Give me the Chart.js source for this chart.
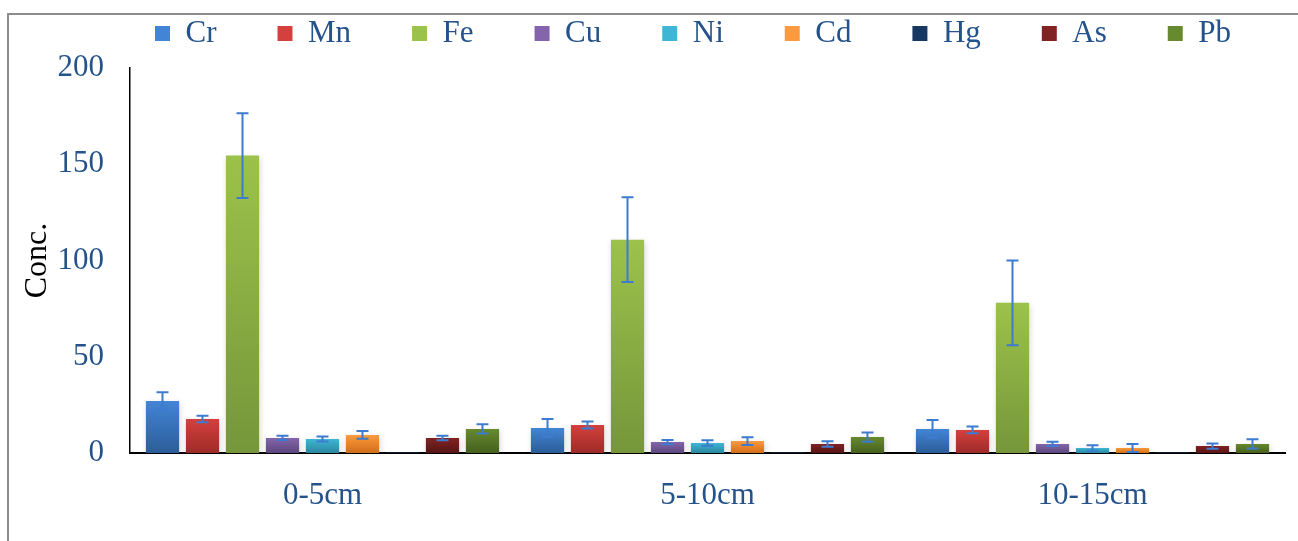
<!DOCTYPE html>
<html>
<head>
<meta charset="utf-8">
<script src="https://cdn.jsdelivr.net/npm/chart.js@4"></script>
<style>
  html, body { margin: 0; padding: 0; background: #fff; overflow: hidden; }
  #frame {
    position: absolute; left: 7px; top: 13px; width: 1291px; height: 528px;
    border-top: 2px solid #8c8c8c; border-left: 2px solid #8c8c8c;
  }
  #wrap { width: 1289px; height: 526px; }
</style>
</head>
<body>
<div id="frame"><div id="wrap"><canvas id="metalChart"></canvas></div></div>
<script>
// Data
const depths = ["0-5cm", "5-10cm", "10-15cm"];
const metals = ["Cr", "Mn", "Fe", "Cu", "Ni", "Cd", "Hg", "As", "Pb"];

const crValues = [27, 13, 12.5];
const mnValues = [17.7, 14.5, 12];
const feValues = [154.5, 110.8, 78];
const cuValues = [7.8, 5.7, 4.7];
const niValues = [7.3, 5.2, 2.6];
const cdValues = [9.4, 6.2, 2.6];
const hgValues = [0.3, 0.3, 0.3];
const asValues = [7.8, 4.7, 3.6];
const pbValues = [12.5, 8.3, 4.7];

const crErrors = [4.5, 4.6, 4.6];
const mnErrors = [1.7, 1.8, 1.8];
const feErrors = [22, 22, 22];
const cuErrors = [1.1, 1.1, 1.1];
const niErrors = [1.3, 1.4, 1.4];
const cdErrors = [2, 2, 2.1];
const hgErrors = [0, 0, 0];
const asErrors = [1.2, 1.4, 1.4];
const pbErrors = [2.4, 2.4, 2.4];

const yTicks = [0, 50, 100, 150, 200];

// Setup

const allValues = [crValues, mnValues, feValues, cuValues, niValues, cdValues, hgValues, asValues, pbValues];
const allErrors = [crErrors, mnErrors, feErrors, cuErrors, niErrors, cdErrors, hgErrors, asErrors, pbErrors];

// light (top) and dark (bottom) shade of each bar
const lightColors = ["#4285d6", "#d4403d", "#9cc24b", "#8465ab", "#3fb6d6", "#fb9a3e", "#24508a", "#822222", "#678a2e"];
const darkColors = ["#2c5d99", "#9d2b28", "#76963a", "#5c477d", "#2a879f", "#d26d18", "#173861", "#561414", "#46601d"];

const blueText = "#24528a";
const serif = "'Liberation Serif', 'Times New Roman', serif";

function barFill(light, dark) {
  return function (c) {
    const chart = c.chart;
    const y = chart.scales.y;
    if (!chart.chartArea || !y || c.raw == null) return dark;
    const top = y.getPixelForValue(c.raw);
    const bottom = y.getPixelForValue(0);
    if (bottom - top < 1) return dark;
    const g = chart.ctx.createLinearGradient(0, top, 0, bottom);
    g.addColorStop(0, light);
    g.addColorStop(1, dark);
    return g;
  };
}

const datasets = metals.map(function (name, i) {
  return {
    label: name,
    data: allValues[i],
    errors: allErrors[i],
    backgroundColor: barFill(lightColors[i], darkColors[i]),
    borderWidth: 0,
    categoryPercentage: 0.935,
    barPercentage: 0.83,
  };
});

// Plugins

// soft shadow under the bars, then error bars on top
const barDecor = {
  id: "barDecor",
  beforeDatasetsDraw(chart) {
    const ctx = chart.ctx;
    ctx.save();
    ctx.shadowColor = "rgba(0,0,0,0.16)";
    ctx.shadowBlur = 6;
    ctx.shadowOffsetX = 1;
    ctx.shadowOffsetY = 2;
  },
  afterDatasetsDraw(chart) {
    const ctx = chart.ctx;
    ctx.restore();
    const y = chart.scales.y;
    ctx.save();
    ctx.strokeStyle = "#3d7bd0";
    ctx.lineWidth = 2;
    chart.data.datasets.forEach(function (ds, i) {
      const meta = chart.getDatasetMeta(i);
      meta.data.forEach(function (bar, j) {
        const e = ds.errors[j];
        if (!e) return;
        const v = ds.data[j];
        const top = y.getPixelForValue(v + e);
        const bot = y.getPixelForValue(Math.max(v - e, 0));
        ctx.beginPath();
        ctx.moveTo(bar.x, top); ctx.lineTo(bar.x, bot);
        ctx.moveTo(bar.x - 6, top); ctx.lineTo(bar.x + 6, top);
        ctx.moveTo(bar.x - 6, bot); ctx.lineTo(bar.x + 6, bot);
        ctx.stroke();
      });
    });
    ctx.restore();
  },
};

// legend row sits high and a bit right of centre in the reference
const legendPlace = {
  id: "legendPlace",
  afterLayout(chart) {
    const lg = chart.legend;
    lg.top -= 58;
    lg.left += 46;
    lg.right += 46;
  },
};

// Configuration

const config = {
  type: "bar",
  data: { labels: depths, datasets: datasets },
  options: {
    responsive: true,
    maintainAspectRatio: false,
    animation: false,
    layout: { padding: { left: 0, right: 13, top: 0, bottom: 0 } },
    plugins: {
      tooltip: { enabled: false },
      legend: {
        position: "top",
        maxHeight: 53,
        labels: {
          boxWidth: 15,
          boxHeight: 15,
          padding: 61,
          color: blueText,
          font: { family: serif, size: 31 },
        },
      },
    },
    scales: {
      x: {
        grid: { display: false, drawTicks: false },
        border: { display: true, color: "#000", width: 2 },
        ticks: { color: blueText, padding: 24, font: { family: serif, size: 31 } },
        afterFit(scale) { scale.height = 88; },
      },
      y: {
        min: 0,
        max: 200,
        afterBuildTicks(scale) { scale.ticks = yTicks.map(v => ({ value: v })); },
        grid: { display: false, drawTicks: false },
        border: { display: true, color: "#000", width: 1.5 },
        ticks: { color: blueText, padding: 26, font: { family: serif, size: 31 } },
        title: {
          display: true,
          text: "Conc.",
          color: "#000",
          padding: { top: 9, bottom: 0 },
          font: { family: serif, size: 32 },
        },
        afterFit(scale) { scale.width = 121; },
      },
    },
  },
  plugins: [barDecor, legendPlace],
};

const metalChart = new Chart(document.getElementById("metalChart"), config);
</script>
</body>
</html>
